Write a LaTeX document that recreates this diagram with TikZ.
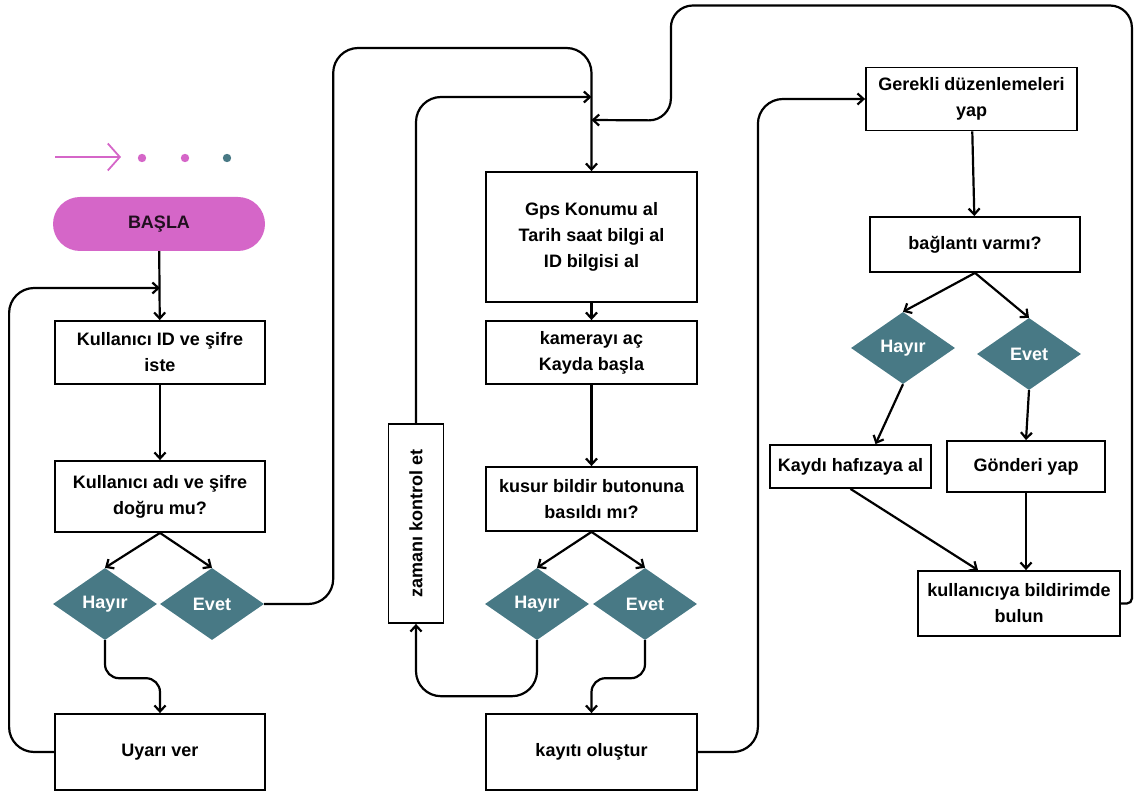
\documentclass[tikz,border=0pt]{standalone}
\usepackage{fontspec}
\setmainfont{Liberation Sans}
\usetikzlibrary{shapes.geometric,arrows.meta,calc}
\definecolor{orchid}{RGB}{213,102,200}
\definecolor{teal}{RGB}{72,121,133}
\begin{document}
\begin{tikzpicture}[x=1pt,y=-1pt,
  >={Straight Barb[length=6pt,width=11pt]},
  txt/.style={font=\bfseries\fontsize{18}{26}\selectfont},
  box/.style={txt,draw,line width=1.8pt,align=center,inner sep=2pt},
  choice/.style={txt,diamond,fill=teal,text=white,inner sep=1pt,minimum width=104pt,minimum height=72pt},
  line/.style={line width=2.2pt}]
\useasboundingbox (0,0) rectangle (1135,791);

%start
\draw [orchid,line width=1.8pt,-{Straight Barb[length=12pt,width=27pt]}] (55,157) -- (121,157);
\fill [orchid] (142,158) circle (4.2);
\fill [orchid] (185,158) circle (4.2);
\fill [teal] (227,158) circle (4.2);
\node [txt,fill=orchid,rounded corners=27pt,minimum width=212pt,minimum height=54pt,text=black!85!orchid] (basla) at (159,224) {BAŞLA};

%first column
\node [box,minimum width=210pt,minimum height=63pt] (kul1) at (160,352.5) {Kullanıcı ID ve şifre\\iste};
\node [box,minimum width=210pt,minimum height=71pt] (kul2) at (160,496.5) {Kullanıcı adı ve şifre\\doğru mu?};
\node [choice] (hayir1) at (105,604) {Hayır};
\node [choice] (evet1) at (212,604) {Evet};
\node [box,minimum width=210pt,minimum height=76pt] (uyari) at (160,752) {Uyarı ver};
\coordinate (j1) at (160,288);

\draw [line,->] (basla) -- (kul1);
\draw [line,->] (kul1) -- (kul2);
\draw [line,->] (kul2.south) -- (hayir1.north);
\draw [line,->] (kul2.south) -- (evet1.north);
\draw [line,->,rounded corners=14pt] (hayir1.south) -- ++(0,38) -| (uyari.north);
\draw [line,->,rounded corners=25pt] (uyari.west) -- ++(-45,0) |- (j1);

%second column
\node [box,minimum width=211pt,minimum height=130pt] (gps) at (591.5,237) {Gps Konumu al\\Tarih saat bilgi al\\ID bilgisi al};
\node [box,minimum width=211pt,minimum height=63pt] (kamera) at (591.5,352.5) {kamerayı aç\\Kayda başla};
\node [box,minimum width=211pt,minimum height=64pt] (kusur) at (591.5,499) {kusur bildir butonuna\\basıldı mı?};
\node [choice] (hayir2) at (537,604) {Hayır};
\node [choice] (evet2) at (645,604) {Evet};
\node [box,minimum width=211pt,minimum height=76pt] (kayit) at (591.5,752) {kayıtı oluştur};
\node [box,minimum width=199pt,minimum height=55pt,rotate=90] (zaman) at (416,523.5) {zamanı kontrol et};
\coordinate (j2) at (591.5,97);
\coordinate (j3) at (591.5,120);

\draw [line,->,rounded corners=25pt] (evet1.east) -- ++(69,0) -- ++(0,-556) -| (gps.north);
\draw [line,->,rounded corners=25pt] (zaman.east) |- (j2);
\draw [line,->] (gps) -- (kamera);
\draw [line,->] (kamera) -- (kusur);
\draw [line,->] (kusur.south) -- (hayir2.north);
\draw [line,->] (kusur.south) -- (evet2.north);
\draw [line,->,rounded corners=25pt] (hayir2.south) -- ++(0,56) -| (zaman.west);
\draw [line,->,rounded corners=14pt] (evet2.south) -- ++(0,38) -| (kayit.north);

%third column
\node [box,minimum width=211pt,minimum height=63pt] (gerekli) at (971.5,99) {Gerekli düzenlemeleri\\yap};
\node [box,minimum width=210pt,minimum height=55pt] (baglanti) at (975,244.5) {bağlantı varmı?};
\node [choice] (hayir3) at (903,348) {Hayır};
\node [choice] (evet3) at (1029,354) {Evet};
\node [box,minimum width=161pt,minimum height=43pt] (kaydi) at (850.5,466.5) {Kaydı hafızaya al};
\node [box,minimum width=158pt,minimum height=51pt] (gonderi) at (1026,466.5) {Gönderi yap};
\node [box,minimum width=202pt,minimum height=65pt] (bildir) at (1019,603.5) {kullanıcıya bildirimde\\bulun};

\draw [line,->,rounded corners=25pt] (kayit.east) -- ++(60,0) |- (gerekli.west);
\draw [line,->] (gerekli) -- (baglanti);
\draw [line,->] (baglanti.south) -- (hayir3.north);
\draw [line,->] (baglanti.south) -- (evet3.north);
\draw [line,->] (hayir3.south) -- ($(kaydi.north)+(25,0)$);
\draw [line,->] (evet3.south) -- (gonderi.north);
\draw [line,->] (kaydi.south) -- ($(bildir.north)+(-41,0)$);
\draw [line,->] (gonderi.south) -- (gonderi.south |- bildir.north);

%loop back
\draw [line,->,rounded corners=5pt] (bildir.east) -- ++(11,0) [rounded corners=22pt] -- ++(0,-598) -- ++(-461,0) -- ++(0,115) -- (j3);
\end{tikzpicture}
\end{document}
